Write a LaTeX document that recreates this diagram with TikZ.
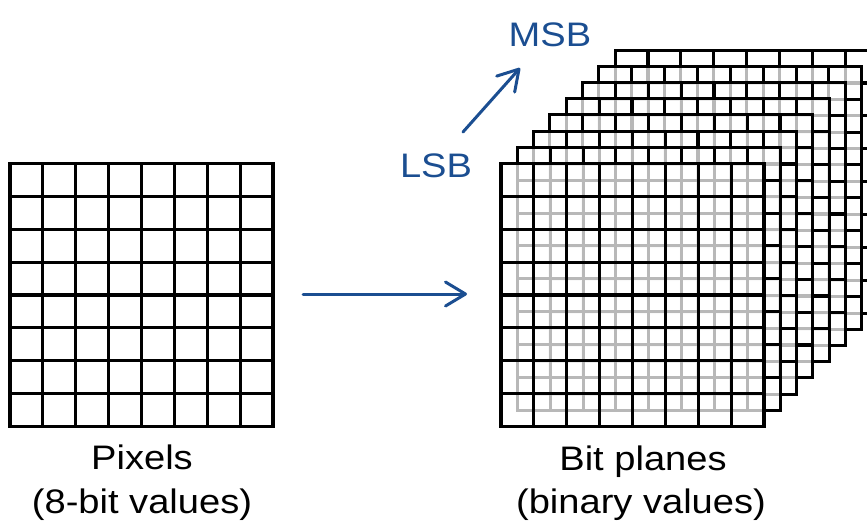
\documentclass[tikz,border=0pt]{standalone}
\usepackage{fontspec}
\setmainfont{Liberation Sans}
\usetikzlibrary{arrows.meta}
\definecolor{darkblue}{RGB}{27,78,145}
\newcommand\bitplane[3]{% x, y of top-left corner, name
  \fill[white, fill opacity=0.72] (#1,#2) rectangle ++(263,263);
  \foreach \k in {0,...,8} {
    \draw[gridline] ({#1+\k*32.875},#2) -- ++(0,263);
    \draw[gridline] (#1,{#2+\k*32.875}) -- ++(263,0);
  }
  \coordinate (#3) at (#1,{#2+131.5});
}
\begin{document}
\begin{tikzpicture}[x=1pt,y=-1pt,
  gridline/.style={black, line width=3.1pt, line cap=rect},
  lab/.style={font=\fontsize{34}{40}\selectfont, xscale=1.12, inner sep=0pt},
  bluelab/.style={lab, text=darkblue},
  bluearrow/.style={draw=darkblue, line width=3pt, line cap=round, -{Straight Barb[length=20pt,width=24pt,line width=3pt,round]}}]
\useasboundingbox (0,0) rectangle (867,525);
\clip (0,0) rectangle (867,525);
% left pixel grid
\node[minimum size=263pt, inner sep=0pt, outer sep=0pt] (pix) at (141.5,295) {};
\foreach \k in {0,...,8} {
  \draw[gridline] ({10+\k*32.875},163.5) -- ++(0,263);
  \draw[gridline] (10,{163.5+\k*32.875}) -- ++(263,0);
}
% bit planes, back to front
\foreach \i in {7,6,...,0} {
  \bitplane{501+16.3*\i}{163.5-16.2*\i}{plane\i}
}
% labels
\node[lab, anchor=base] (pixA) at (142,469) {Pixels};
\node[lab, anchor=base] (pixB) at (142,513) {(8-bit values)};
\node[lab, anchor=base] (bpA) at (643,470) {Bit planes};
\node[lab, anchor=base] (bpB) at (641,513) {(binary values)};
\node[bluelab, anchor=base] (lsb) at (436,177) {LSB};
\node[bluelab, anchor=base] (msb) at (550,46) {MSB};
% arrows
\coordinate (a1) at (303,294);
\coordinate (a2) at (467,294);
\draw[bluearrow] (a1) -- (a2);
\coordinate (b1) at (463,132);
\coordinate (b2) at (520,68);
\draw[bluearrow] (b1) -- (b2);
\end{tikzpicture}
\end{document}
